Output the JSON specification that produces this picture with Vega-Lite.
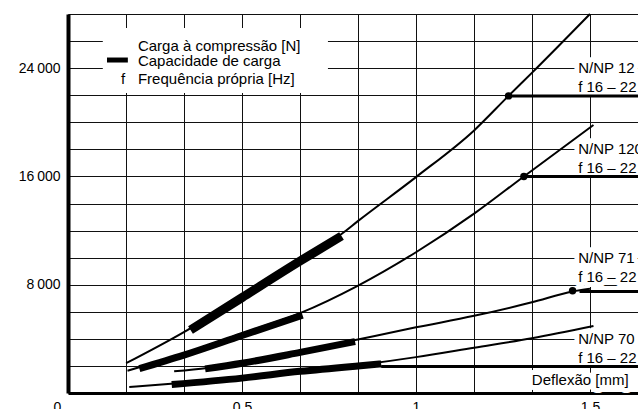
{
  "$schema": "https://vega.github.io/schema/vega-lite/v6.json",
  "width": 570,
  "height": 379,
  "padding": {"left": 68, "top": 14, "right": 0, "bottom": 16},
  "autosize": {"type": "none"},
  "background": "white",
  "config": {"view": {"stroke": null}, "font": "Liberation Sans"},
  "datasets": {
    "curves": [
      {"series": "A", "x": 0.167, "load": 2200}, {"series": "A", "x": 0.333, "load": 4500}, {"series": "A", "x": 0.5, "load": 7150}, {"series": "A", "x": 0.667, "load": 9900}, {"series": "A", "x": 0.786, "load": 11750}, {"series": "A", "x": 0.833, "load": 12700}, {"series": "A", "x": 1.0, "load": 15950}, {"series": "A", "x": 1.167, "load": 19400}, {"series": "A", "x": 1.266, "load": 21950}, {"series": "A", "x": 1.333, "load": 23650}, {"series": "A", "x": 1.5, "load": 28000},
      {"series": "B", "x": 0.171, "load": 1650}, {"series": "B", "x": 0.333, "load": 2900}, {"series": "B", "x": 0.5, "load": 4400}, {"series": "B", "x": 0.667, "load": 5900}, {"series": "B", "x": 0.831, "load": 7900}, {"series": "B", "x": 1.0, "load": 10400}, {"series": "B", "x": 1.167, "load": 13250}, {"series": "B", "x": 1.31, "load": 16000}, {"series": "B", "x": 1.51, "load": 19800},
      {"series": "C", "x": 0.305, "load": 1600}, {"series": "C", "x": 0.4, "load": 1850}, {"series": "C", "x": 0.5, "load": 2250}, {"series": "C", "x": 0.667, "load": 3050}, {"series": "C", "x": 0.833, "load": 3950}, {"series": "C", "x": 1.0, "load": 4850}, {"series": "C", "x": 1.167, "load": 5700}, {"series": "C", "x": 1.333, "load": 6700}, {"series": "C", "x": 1.45, "load": 7500}, {"series": "C", "x": 1.5, "load": 7700},
      {"series": "D", "x": 0.176, "load": 450}, {"series": "D", "x": 0.333, "load": 750}, {"series": "D", "x": 0.5, "load": 1100}, {"series": "D", "x": 0.667, "load": 1550}, {"series": "D", "x": 0.833, "load": 2050}, {"series": "D", "x": 1.0, "load": 2650}, {"series": "D", "x": 1.167, "load": 3350}, {"series": "D", "x": 1.333, "load": 4050}, {"series": "D", "x": 1.51, "load": 4950}
    ],
    "bands": [
      {"series": "A", "x": 0.352, "load": 4650}, {"series": "A", "x": 0.5, "load": 7050}, {"series": "A", "x": 0.667, "load": 9750}, {"series": "A", "x": 0.786, "load": 11600},
      {"series": "B", "x": 0.205, "load": 1800}, {"series": "B", "x": 0.333, "load": 2800}, {"series": "B", "x": 0.5, "load": 4250}, {"series": "B", "x": 0.674, "load": 5750},
      {"series": "C", "x": 0.394, "load": 1780}, {"series": "C", "x": 0.5, "load": 2200}, {"series": "C", "x": 0.667, "load": 3000}, {"series": "C", "x": 0.825, "load": 3800},
      {"series": "D", "x": 0.298, "load": 620}, {"series": "D", "x": 0.5, "load": 1100}, {"series": "D", "x": 0.667, "load": 1600}, {"series": "D", "x": 0.833, "load": 2000}, {"series": "D", "x": 0.9, "load": 2150}
    ],
    "freq": [
      {"x": 1.266, "x2": 1.638, "load": 21950},
      {"x": 1.31, "x2": 1.638, "load": 16000},
      {"x": 1.47, "x2": 1.638, "load": 7500},
      {"x": 0.9, "x2": 1.638, "load": 1950}
    ],
    "dots": [
      {"x": 1.266, "load": 21950},
      {"x": 1.31, "load": 16000},
      {"x": 1.45, "load": 7550}
    ],
    "legendbox": [
      {"x": 0.1, "x2": 0.747, "load": 22160, "load2": 26960}
    ],
    "legendsample": [
      {"x": 0.112, "x2": 0.172, "load": 24600}
    ],
    "labels": [
      {"x": 0.201, "load": 25290, "label": "Carga à compressão [N]"},
      {"x": 0.201, "load": 24160, "label": "Capacidade de carga"},
      {"x": 0.201, "load": 22830, "label": "Frequência própria [Hz]"},
      {"x": 0.152, "load": 22830, "label": "f"},
      {"x": 1.466, "load": 23650, "label": "N/NP 12"},
      {"x": 1.466, "load": 22250, "label": "f 16 – 22"},
      {"x": 1.466, "load": 17650, "label": "N/NP 120"},
      {"x": 1.466, "load": 16250, "label": "f 16 – 22"},
      {"x": 1.466, "load": 9600, "label": "N/NP 71"},
      {"x": 1.466, "load": 8200, "label": "f 16 – 22"},
      {"x": 1.466, "load": 3600, "label": "N/NP 70"},
      {"x": 1.466, "load": 2200, "label": "f 16 – 22"},
      {"x": 1.333, "load": 590, "label": "Deflexão [mm]"}
    ]
  },
  "encoding": {
    "x": {
      "field": "x", "type": "quantitative",
      "scale": {"domain": [0, 1.638], "nice": false, "zero": false},
      "axis": {
        "title": null,
        "values": [0, 0.16667, 0.33333, 0.5, 0.66667, 0.83333, 1, 1.16667, 1.33333, 1.5],
        "grid": true, "gridColor": "#111", "gridWidth": 1,
        "ticks": false,
        "domain": true, "domainColor": "black", "domainWidth": 3,
        "labelExpr": "abs(datum.value*2 - round(datum.value*2)) < 0.001 ? format(datum.value, '~g') : ''",
        "labelFont": "Liberation Sans", "labelFontSize": 14, "labelColor": "black",
        "labelPadding": 7, "labelOverlap": false, "labelFlush": false,
        "labelOffset": {"condition": {"test": "datum.value == 0", "value": -11}, "value": 0}
      }
    },
    "y": {
      "field": "load", "type": "quantitative",
      "scale": {"domain": [0, 28000], "nice": false, "zero": true},
      "axis": {
        "title": null,
        "values": [2000, 4000, 6000, 8000, 10000, 12000, 14000, 16000, 18000, 20000, 22000, 24000, 26000, 28000],
        "grid": true, "gridColor": "#111", "gridWidth": 1,
        "ticks": false,
        "domain": true, "domainColor": "black", "domainWidth": 4,
        "labelExpr": "(datum.value == 8000 || datum.value == 16000 || datum.value == 24000) ? replace(format(datum.value, ','), ',', '\u2009') : ''",
        "labelFont": "Liberation Sans", "labelFontSize": 14, "labelColor": "black",
        "labelPadding": 8, "labelOverlap": false, "labelFlush": false
      }
    }
  },
  "layer": [
    {
      "data": {"name": "legendbox"},
      "mark": {"type": "rect", "fill": "white", "stroke": null},
      "encoding": {"x2": {"field": "x2"}, "y2": {"field": "load2"}}
    },
    {
      "data": {"name": "labels"},
      "mark": {"type": "text", "align": "left", "baseline": "alphabetic", "font": "Liberation Sans", "fontSize": 15, "fill": "white", "stroke": "white", "strokeWidth": 10, "strokeJoin": "round"},
      "encoding": {"text": {"field": "label"}}
    },
    {
      "data": {"name": "curves"},
      "mark": {"type": "line", "color": "black", "strokeWidth": 2, "interpolate": "monotone"},
      "encoding": {"detail": {"field": "series"}}
    },
    {
      "data": {"name": "bands"},
      "transform": [{"filter": "datum.series == 'A'"}],
      "mark": {"type": "line", "color": "black", "strokeWidth": 9, "strokeCap": "butt", "interpolate": "monotone"},
      "encoding": {"detail": {"field": "series"}}
    },
    {
      "data": {"name": "bands"},
      "transform": [{"filter": "datum.series != 'A'"}],
      "mark": {"type": "line", "color": "black", "strokeWidth": 7, "strokeCap": "butt", "interpolate": "monotone"},
      "encoding": {"detail": {"field": "series"}}
    },
    {
      "data": {"name": "freq"},
      "mark": {"type": "rule", "color": "black", "strokeWidth": 3},
      "encoding": {"x2": {"field": "x2"}}
    },
    {
      "data": {"name": "legendsample"},
      "mark": {"type": "rule", "color": "black", "strokeWidth": 5},
      "encoding": {"x2": {"field": "x2"}}
    },
    {
      "data": {"name": "dots"},
      "mark": {"type": "point", "filled": true, "color": "black", "opacity": 1, "size": 55}
    },
    {
      "data": {"name": "labels"},
      "mark": {"type": "text", "align": "left", "baseline": "alphabetic", "font": "Liberation Sans", "fontSize": 15, "color": "black"},
      "encoding": {"text": {"field": "label"}}
    }
  ]
}
